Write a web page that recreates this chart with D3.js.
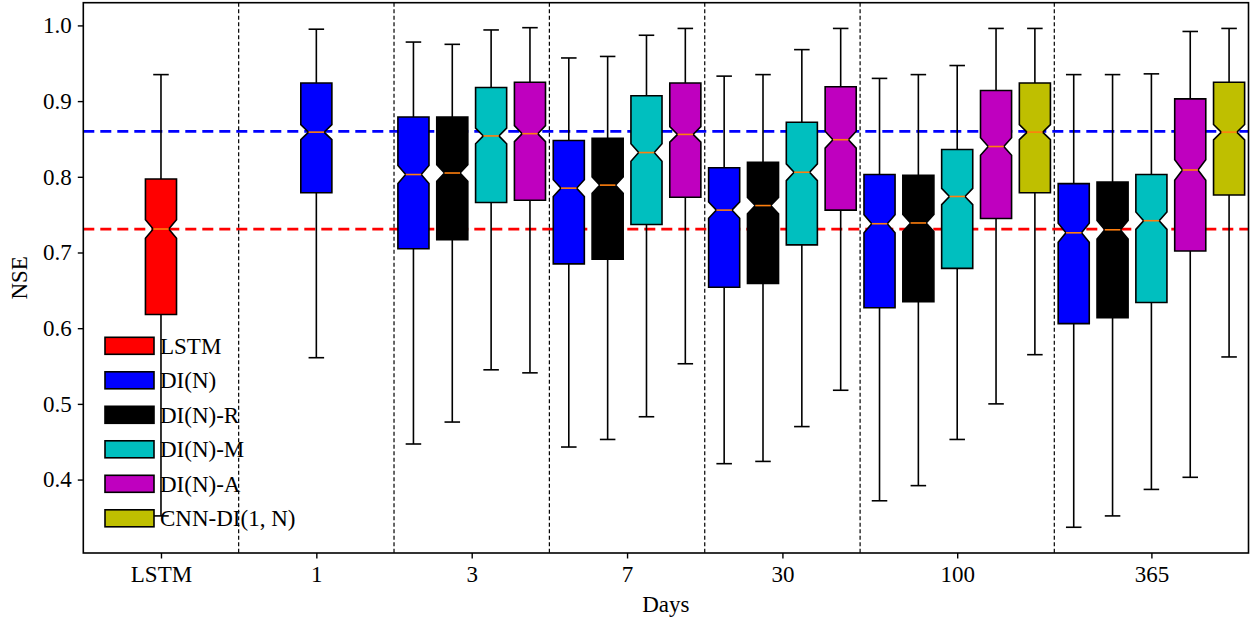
<!DOCTYPE html>
<html>
<head>
<meta charset="utf-8">
<script src="https://cdn.jsdelivr.net/npm/d3@7"></script>
<style>
  html, body { margin: 0; padding: 0; background: #fff; }
  svg { display: block; }
  text { font-family: "Liberation Serif", "Times New Roman", serif; fill: #000; }
</style>
</head>
<body>
<svg id="chart" width="1250" height="621"></svg>
<script>
// ---- data ----
const groups = ["LSTM", "1", "3", "7", "30", "100", "365"];
const seriesNames = ["LSTM", "DI(N)", "DI(N)-R", "DI(N)-M", "DI(N)-A", "CNN-DI(1, N)"];
const seriesColors = ["#ff0000", "#0000ff", "#000000", "#00bfbf", "#bf00bf", "#bfbf00"];
const groupSeries = [[0], [1], [1, 2, 3, 4], [1, 2, 3, 4], [1, 2, 3, 4], [1, 2, 3, 4, 5], [1, 2, 3, 4, 5]];
// box statistics, in order of groups then series
const whiskerHigh = [0.935, 0.995, 0.978, 0.975, 0.994, 0.997, 0.957, 0.959, 0.987, 0.996, 0.933, 0.935, 0.968, 0.996, 0.930, 0.935, 0.947, 0.996, 0.996, 0.935, 0.935, 0.936, 0.992, 0.996];
const q3 = [0.797, 0.924, 0.879, 0.879, 0.918, 0.925, 0.848, 0.851, 0.907, 0.924, 0.812, 0.819, 0.872, 0.919, 0.803, 0.802, 0.836, 0.914, 0.924, 0.791, 0.793, 0.803, 0.903, 0.925];
const median = [0.731, 0.859, 0.803, 0.805, 0.854, 0.857, 0.785, 0.789, 0.832, 0.856, 0.756, 0.762, 0.806, 0.849, 0.738, 0.739, 0.774, 0.840, 0.859, 0.726, 0.730, 0.742, 0.809, 0.859];
const q1 = [0.618, 0.779, 0.705, 0.717, 0.766, 0.769, 0.685, 0.691, 0.737, 0.773, 0.654, 0.659, 0.710, 0.756, 0.627, 0.635, 0.679, 0.745, 0.779, 0.606, 0.614, 0.634, 0.702, 0.776];
const whiskerLow = [0.352, 0.561, 0.447, 0.476, 0.545, 0.541, 0.443, 0.453, 0.483, 0.553, 0.421, 0.424, 0.470, 0.518, 0.372, 0.392, 0.453, 0.500, 0.565, 0.337, 0.352, 0.387, 0.403, 0.562];
const nBasins = 531;
const refLines = [0.86, 0.731];
const refColors = ["#0000ff", "#ff0000"];
const yTicks = [0.4, 0.5, 0.6, 0.7, 0.8, 0.9, 1.0];

// ---- layout ----
const svg = d3.select("#chart");
const pLeft = 83.3, pRight = 1248.5, pTop = 2.7, pBottom = 553;
const FONT = 23;

// build box list with slot positions
const boxes = [];
const groupCenters = [];
const separators = [];
let cursor = -2, k = 0;
groups.forEach((g, gi) => {
  const ser = groupSeries[gi];
  const span = Math.max(4, ser.length);
  const center = cursor + span / 2;
  groupCenters.push(center);
  ser.forEach((s, si) => {
    boxes.push({
      group: g, series: s,
      pos: center - (ser.length - 1) / 2 + si,
      lo: whiskerLow[k], q1: q1[k], med: median[k], q3: q3[k], hi: whiskerHigh[k]
    });
    k++;
  });
  cursor += span;
  if (gi < groups.length - 1) separators.push(cursor);
});

const x = d3.scaleLinear().domain([-2, cursor]).range([pLeft, pRight]);
const y = d3.scaleLinear().domain([0.303, 1.030]).range([pBottom, pTop]);
const unit = x(1) - x(0);
const bw = unit * 0.8;

svg.append("rect").attr("width", 1250).attr("height", 621).attr("fill", "#fff");

// reference dashed lines (behind boxes)
svg.append("g").selectAll("line").data(refLines).join("line")
  .attr("x1", pLeft).attr("x2", pRight)
  .attr("y1", d => y(d)).attr("y2", d => y(d))
  .attr("stroke", (d, i) => refColors[i]).attr("stroke-width", 2.7)
  .attr("stroke-dasharray", "11,6");

// separators
svg.append("g").selectAll("line").data(separators).join("line")
  .attr("x1", d => x(d)).attr("x2", d => x(d))
  .attr("y1", pTop).attr("y2", pBottom)
  .attr("stroke", "#000").attr("stroke-width", 1.2)
  .attr("stroke-dasharray", "4,2.5");

// boxes
const gb = svg.append("g");
boxes.forEach(b => {
  const cx = x(b.pos);
  const l = cx - bw / 2, r = cx + bw / 2;
  const nl = cx - bw / 4, nr = cx + bw / 4;
  const half = 1.57 * (b.q3 - b.q1) / Math.sqrt(nBasins);
  const nlo = b.med - half, nhi = b.med + half;
  [[b.q1, b.lo], [b.q3, b.hi]].forEach(([a, c]) => {
    gb.append("line").attr("x1", cx).attr("x2", cx).attr("y1", y(a)).attr("y2", y(c))
      .attr("stroke", "#000").attr("stroke-width", 1.6);
    gb.append("line").attr("x1", nl).attr("x2", nr).attr("y1", y(c)).attr("y2", y(c))
      .attr("stroke", "#000").attr("stroke-width", 1.6);
  });
  const pts = [
    [l, y(b.q1)], [r, y(b.q1)], [r, y(nlo)], [nr, y(b.med)], [r, y(nhi)], [r, y(b.q3)],
    [l, y(b.q3)], [l, y(nhi)], [nl, y(b.med)], [l, y(nlo)]
  ];
  gb.append("path").attr("d", d3.line()(pts) + "Z")
    .attr("fill", seriesColors[b.series]).attr("stroke", "#000").attr("stroke-width", 1.6)
    .attr("stroke-linejoin", "miter");
  gb.append("line").attr("x1", nl).attr("x2", nr).attr("y1", y(b.med)).attr("y2", y(b.med))
    .attr("stroke", "#ff7f0e").attr("stroke-width", 1.6);
});

// frame
svg.append("rect").attr("x", pLeft).attr("y", pTop).attr("width", pRight - pLeft).attr("height", pBottom - pTop)
  .attr("fill", "none").attr("stroke", "#000").attr("stroke-width", 1.6);

// axes
const yAxis = d3.axisLeft(y).tickValues(yTicks).tickFormat(d3.format(".1f")).tickSize(5.5).tickPadding(6);
const gy = svg.append("g").attr("transform", `translate(${pLeft},0)`).call(yAxis);
gy.select(".domain").remove();
gy.selectAll("line").attr("stroke", "#000").attr("stroke-width", 1.4);
gy.selectAll("text").attr("font-size", FONT).attr("font-family", "Liberation Serif");

const xAxis = d3.axisBottom(x).tickValues(groupCenters).tickFormat((d, i) => groups[i]).tickSize(5.5).tickPadding(7);
const gx = svg.append("g").attr("transform", `translate(0,${pBottom})`).call(xAxis);
gx.select(".domain").remove();
gx.selectAll("line").attr("stroke", "#000").attr("stroke-width", 1.4);
gx.selectAll("text").attr("font-size", FONT).attr("font-family", "Liberation Serif");

svg.append("text").attr("x", (pLeft + pRight) / 2).attr("y", 612).attr("text-anchor", "middle")
  .attr("font-size", FONT).text("Days");
svg.append("text").attr("transform", `translate(27,${(pTop + pBottom) / 2}) rotate(-90)`)
  .attr("text-anchor", "middle").attr("font-size", FONT).text("NSE");

// legend
const lg = svg.append("g");
seriesNames.forEach((name, i) => {
  const ty = 337.3 + i * 34.5;
  lg.append("rect").attr("x", 105).attr("y", ty).attr("width", 49).attr("height", 17)
    .attr("fill", seriesColors[i]).attr("stroke", "#000").attr("stroke-width", 1.6);
  lg.append("text").attr("x", 160).attr("y", ty + 16.5).attr("font-size", FONT).text(name);
});
</script>
</body>
</html>
